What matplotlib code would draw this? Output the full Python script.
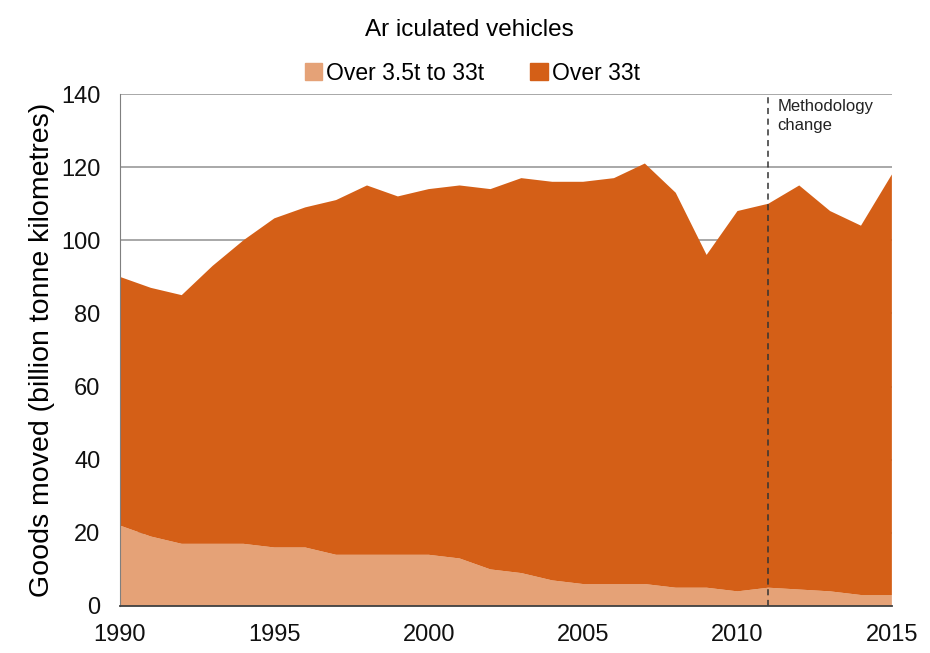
import numpy as np
import matplotlib
matplotlib.use("Agg")
from matplotlib import pyplot as plt
from matplotlib.patches import Patch

plt.rcParams['font.family'] = ['Liberation Sans', 'DejaVu Sans']

years = list(range(1990, 2016))
# total goods moved, and the lighter weight band underneath
total = [90, 87, 85, 93, 100, 106, 109, 111, 115, 112, 114, 115, 114, 117, 116,
         116, 117, 121, 113, 96, 108, 110, 115, 108, 104, 118]
over_3_5t_to_33t = [22, 19, 17, 17, 17, 16, 16, 14, 14, 14, 14, 13, 10, 9, 7,
                    6, 6, 6, 5, 5, 4, 5, 4.5, 4, 3, 3]
over_33t = [t - s for t, s in zip(total, over_3_5t_to_33t)]

light = "#E5A277"
dark = "#D45F17"

fig = plt.figure(figsize=(9.3, 6.53), dpi=100)
ax = fig.add_axes([0.129, 0.072, 0.83, 0.784])

ax.stackplot(years, over_3_5t_to_33t, over_33t, colors=[light, dark], linewidth=0, zorder=2)

ax.set_xlim(1990, 2015)
ax.set_ylim(0, 140)
ax.set_yticks(range(0, 141, 20))
ax.set_xticks(range(1990, 2016, 5))
ax.grid(axis="y", color="#9a9a9a", linewidth=1.2, zorder=0)
ax.set_axisbelow(True)

for s in ["top", "right"]:
    ax.spines[s].set_visible(False)
ax.spines["left"].set_color("#7f7f7f")
ax.spines["bottom"].set_color("#404040")
ax.spines["bottom"].set_linewidth(1.3)
ax.spines["left"].set_zorder(3)
ax.spines["bottom"].set_zorder(3)
ax.tick_params(length=0, labelsize=17, colors="#111111")
ax.tick_params(axis="x", pad=13)
ax.tick_params(axis="y", pad=14)

ax.set_ylabel("Goods moved (billion tonne kilometres)", fontsize=20.5)
ax.yaxis.set_label_coords(-0.084, 0.5)

# methodology break
ax.axvline(2011, color="#333333", linestyle=(0, (4, 3)), linewidth=1.1, zorder=3)
ax.text(2011.3, 138.6, "Methodology\nchange", fontsize=12, va="top", ha="left",
        color="#222222", linespacing=1.3)

fig.text(0.505, 0.954, "Ar iculated vehicles", ha="center", va="center", fontsize=17.5)
handles = [Patch(color=light), Patch(color=dark)]
fig.legend(handles, ["Over 3.5t to 33t", "Over 33t"], loc="center",
           bbox_to_anchor=(0.508, 0.888), ncol=2, frameon=False, fontsize=16.5,
           handlelength=0.75, handleheight=0.75, handletextpad=0.2, columnspacing=2.0)

fig.savefig("out.png", dpi=100)
